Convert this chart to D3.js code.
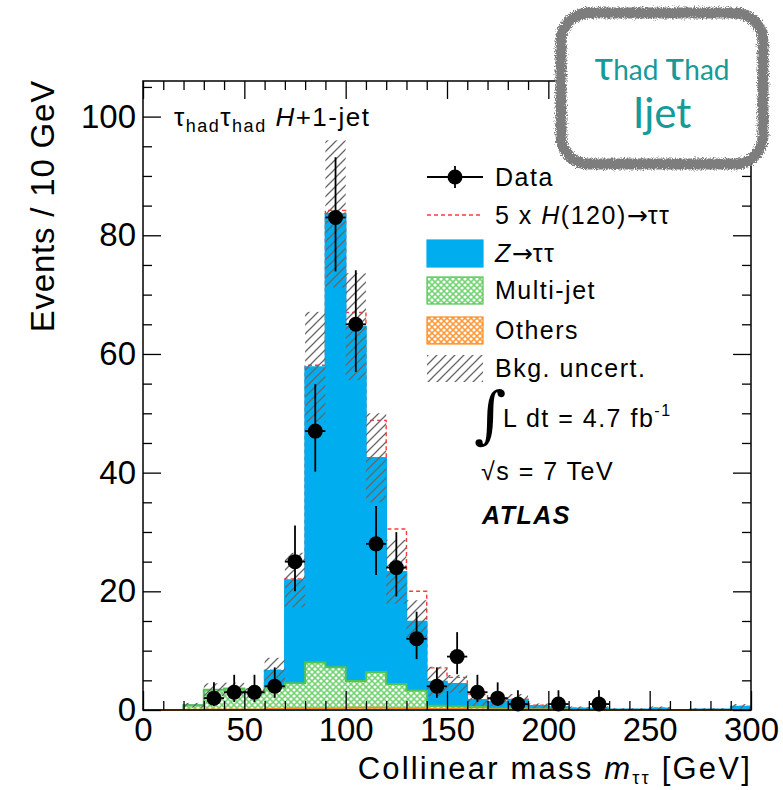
<!DOCTYPE html>
<html>
<head>
<meta charset="utf-8">
<script src="https://cdn.jsdelivr.net/npm/d3@7"></script>
<style>
  html, body { margin: 0; padding: 0; background: #fff; }
  svg { display: block; font-family: "Liberation Sans", Arial, Helvetica, sans-serif; }
</style>
</head>
<body>
<svg id="chart" width="783" height="790"></svg>
<script>
// bins of 10 GeV, lower edges
const binLow = [0, 10, 20, 30, 40, 50, 60, 70, 80, 90, 100, 110, 120, 130, 140,
  150, 160, 170, 180, 190, 200, 210, 220, 230, 240, 250, 260, 270, 280, 290]
const binWidth = 10

// background stack, per bin
const others = [0, 0, 0.05, 0.1, 0.1, 0.1, 0.2, 0.3, 0.3, 0.3, 0.4, 0.4, 0.3, 0.3, 0.2,
  0.2, 0.1, 0.1, 0.1, 0.1, 0.05, 0, 0, 0, 0, 0, 0, 0, 0, 0]
const multiJet = [0, 0, 0.75, 3.3, 3.5, 2.8, 3.6, 4.2, 7.7, 6.9, 4.5, 6.0, 4.1, 3.0, 0.5,
  0.4, 0.4, 0.1, 0.2, 0, 0.05, 0, 0, 0, 0, 0, 0, 0, 0, 0]
const zTauTau = [0, 0, 0, 0, 0, 0, 2.8, 17.4, 49.8, 76.4, 59.7, 36.1, 18.9, 11.6, 4.1,
  3.8, 1.2, 1.2, 1.4, 0.6, 0.4, 0.3, 0.3, 0.1, 0.1, 0.3, 0, 0.1, 0.1, 0.6]
const signal5x = [0, 0, 0, 0, 0, 0, 0.1, 0.2, 0.3, 0.6, 2.4, 6.3, 7.2, 5.1, 2.3,
  1.1, 1.0, 0.4, 0.1, 0.1, 0, 0, 0, 0, 0, 0, 0, 0, 0, 0]
const bkgUncert = [0, 0, 0.4, 1.1, 1.0, 0.8, 2.2, 4.6, 9.3, 12.4, 9.0, 7.5, 5.4, 3.6, 2.5,
  1.5, 1.0, 0.7, 1.0, 0.4, 0.3, 0.3, 0.3, 0.2, 0.2, 0.3, 0, 0.2, 0.2, 0.4]

// data points
const dataMass = [35, 45, 55, 65, 75, 85, 95, 105, 115, 125, 135, 145, 155, 165, 175, 185, 205, 225]
const dataEvents = [2, 3, 3, 4, 25, 47, 83, 65, 28, 24, 12, 4, 9, 3, 2, 1, 1, 1]

const xTicks = [0, 50, 100, 150, 200, 250, 300]
const yTicks = [0, 20, 40, 60, 80, 100]

const svg = d3.select('#chart')
const defs = svg.append('defs')

const x = d3.scaleLinear().domain([0, 300]).range([143, 751])
const y = d3.scaleLinear().domain([0, 106]).range([710, 81])

// patterns
const hatch = defs.append('pattern').attr('id', 'hatch')
  .attr('patternUnits', 'userSpaceOnUse').attr('width', 9).attr('height', 9)
hatch.append('path').attr('d', 'M0,9 L9,0 M-2,2 L2,-2 M7,11 L11,7')
  .attr('stroke', '#666').attr('stroke-width', 1.3)

const crossPattern = (id, bg) => {
  const p = defs.append('pattern').attr('id', id)
    .attr('patternUnits', 'userSpaceOnUse').attr('width', 6).attr('height', 6)
  p.append('rect').attr('width', 6).attr('height', 6).attr('fill', bg)
  ;[[0, 0], [6, 0], [0, 6], [6, 6], [3, 3]].forEach(([cx, cy]) => {
    p.append('circle').attr('cx', cx).attr('cy', cy).attr('r', 1.6).attr('fill', '#fff')
  })
}
crossPattern('mjPat', '#72d472')
crossPattern('othPat', '#ff9a3a')

const rough = defs.append('filter').attr('id', 'rough')
  .attr('x', '-10%').attr('y', '-10%').attr('width', '120%').attr('height', '120%')
rough.append('feTurbulence').attr('type', 'fractalNoise').attr('baseFrequency', 0.9)
  .attr('numOctaves', 2).attr('seed', 3).attr('result', 'noise')
rough.append('feDisplacementMap').attr('in', 'SourceGraphic').attr('in2', 'noise')
  .attr('scale', 7).attr('xChannelSelector', 'R').attr('yChannelSelector', 'G')

// cumulative stack tops
const othTop = others
const mjTop = others.map((v, i) => v + multiJet[i])
const bkgTop = mjTop.map((v, i) => v + zTauTau[i])
const sigTop = bkgTop.map((v, i) => v + signal5x[i])

const stepPoints = vals => {
  const pts = binLow.map((b, i) => ({ x: b, v: vals[i] }))
  pts.push({ x: binLow[binLow.length - 1] + binWidth, v: vals[vals.length - 1] })
  return pts
}
const area = d3.area().x(d => x(d.x)).y0(y(0)).y1(d => y(d.v)).curve(d3.curveStepAfter)
const line = d3.line().x(d => x(d.x)).y(d => y(d.v)).curve(d3.curveStepAfter)

const plot = svg.append('g')

// signal outline sits under the background fills
plot.append('path').datum(stepPoints(sigTop)).attr('d', line)
  .attr('fill', 'none').attr('stroke', '#ff3b3b').attr('stroke-width', 1.4)
  .attr('stroke-dasharray', '4,3')

plot.append('path').datum(stepPoints(bkgTop)).attr('d', area)
  .attr('fill', '#00aeef').attr('stroke', '#00aeef').attr('stroke-width', 1.6)
plot.append('path').datum(stepPoints(mjTop)).attr('d', area)
  .attr('fill', 'url(#mjPat)').attr('stroke', 'none')
plot.append('path').datum(stepPoints(mjTop)).attr('d', line)
  .attr('fill', 'none').attr('stroke', '#52c452').attr('stroke-width', 2)
plot.append('path').datum(stepPoints(othTop)).attr('d', area)
  .attr('fill', 'url(#othPat)').attr('stroke', 'none')
plot.append('path').datum(stepPoints(othTop)).attr('d', line)
  .attr('fill', 'none').attr('stroke', '#ff8a1c').attr('stroke-width', 2)

// background uncertainty band
plot.selectAll('rect.unc').data(binLow.map((b, i) => ({ b, top: bkgTop[i], err: bkgUncert[i] }))
  .filter(d => d.err > 0))
  .join('rect').attr('class', 'unc')
  .attr('x', d => x(d.b)).attr('width', d => x(d.b + binWidth) - x(d.b))
  .attr('y', d => y(d.top + d.err))
  .attr('height', d => y(Math.max(0, d.top - d.err)) - y(d.top + d.err))
  .attr('fill', 'url(#hatch)')

// data with Poisson-like errors
const pts = dataMass.map((m, i) => {
  const n = dataEvents[i]
  return { m, n, up: n + 1 + Math.sqrt(n + 0.75), lo: n - Math.sqrt(n - 0.25) }
})
const dataG = plot.append('g')
dataG.selectAll('line.ev').data(pts).join('line').attr('class', 'ev')
  .attr('x1', d => x(d.m)).attr('x2', d => x(d.m))
  .attr('y1', d => y(d.up)).attr('y2', d => y(Math.max(0, d.lo)))
  .attr('stroke', '#000').attr('stroke-width', 1.8)
dataG.selectAll('line.eh').data(pts).join('line').attr('class', 'eh')
  .attr('x1', d => x(d.m - binWidth / 2)).attr('x2', d => x(d.m + binWidth / 2))
  .attr('y1', d => y(d.n)).attr('y2', d => y(d.n))
  .attr('stroke', '#000').attr('stroke-width', 1.8)
dataG.selectAll('circle').data(pts).join('circle')
  .attr('cx', d => x(d.m)).attr('cy', d => y(d.n)).attr('r', 7.5).attr('fill', '#000')

// frame and axes (ROOT style, ticks inside on all sides)
const axes = svg.append('g')
const minorX = d3.range(0, 301, 10).filter(v => v % 50 !== 0)
const minorY = d3.range(0, 106, 5).filter(v => v % 20 !== 0)

axes.append('g').attr('transform', `translate(0,${y(0)})`)
  .call(d3.axisBottom(x).tickValues(xTicks).tickSize(-19).tickPadding(8).tickFormat(d3.format('d')))
axes.append('g').attr('transform', `translate(0,${y(0)})`)
  .call(d3.axisBottom(x).tickValues(minorX).tickSize(-9).tickFormat(''))
axes.append('g').attr('transform', `translate(0,${y(106)})`)
  .call(d3.axisTop(x).tickValues(xTicks).tickSize(-18).tickFormat(''))
axes.append('g').attr('transform', `translate(0,${y(106)})`)
  .call(d3.axisTop(x).tickValues(minorX).tickSize(-9).tickFormat(''))

axes.append('g').attr('transform', `translate(${x(0)},0)`)
  .call(d3.axisLeft(y).tickValues(yTicks).tickSize(-18).tickPadding(7).tickFormat(d3.format('d')))
axes.append('g').attr('transform', `translate(${x(0)},0)`)
  .call(d3.axisLeft(y).tickValues(minorY).tickSize(-9).tickFormat(''))
axes.append('g').attr('transform', `translate(${x(300)},0)`)
  .call(d3.axisRight(y).tickValues(yTicks).tickSize(-18).tickFormat(''))
axes.append('g').attr('transform', `translate(${x(300)},0)`)
  .call(d3.axisRight(y).tickValues(minorY).tickSize(-9).tickFormat(''))

axes.selectAll('.domain').remove()
axes.selectAll('.tick line').attr('stroke', '#000').attr('stroke-width', 1.3)
axes.selectAll('.tick text').attr('font-size', 33).attr('fill', '#000')
  .attr('font-family', '"Liberation Sans", Arial, sans-serif')
axes.append('rect').attr('x', x(0)).attr('y', y(106))
  .attr('width', x(300) - x(0)).attr('height', y(0) - y(106))
  .attr('fill', 'none').attr('stroke', '#000').attr('stroke-width', 1.5)

// axis titles
svg.append('text').attr('transform', 'translate(54,80) rotate(-90)')
  .attr('text-anchor', 'end').attr('font-size', 33).attr('letter-spacing', 0.8)
  .text('Events / 10 GeV')

const xt = svg.append('text').attr('x', 752).attr('y', 779).attr('text-anchor', 'end')
  .attr('font-size', 31).attr('letter-spacing', 2.2)
xt.append('tspan').text('Collinear mass ')
xt.append('tspan').attr('font-style', 'italic').text('m')
xt.append('tspan').attr('font-size', 18).attr('dy', 5).text('ττ')
xt.append('tspan').attr('dy', -5).text(' [GeV]')

// channel label
const ch = svg.append('text').attr('x', 174).attr('y', 126).attr('font-size', 26)
  .attr('letter-spacing', 1.5)
ch.append('tspan').text('τ')
ch.append('tspan').attr('font-size', 18).attr('dy', 6).text('had')
ch.append('tspan').attr('dy', -6).text('τ')
ch.append('tspan').attr('font-size', 18).attr('dy', 6).text('had')
ch.append('tspan').attr('dy', -6).text(' ')
ch.append('tspan').attr('font-style', 'italic').text('H')
ch.append('tspan').text('+1-jet')

// legend
const leg = svg.append('g').attr('font-size', 25).attr('letter-spacing', 1.5)
const lx0 = 427, lx1 = 483, ltx = 495
const rowY = [177, 215, 253, 290, 330, 368]

leg.append('line').attr('x1', lx0).attr('x2', lx1).attr('y1', rowY[0]).attr('y2', rowY[0])
  .attr('stroke', '#000').attr('stroke-width', 1.8)
leg.append('line').attr('x1', 455).attr('x2', 455).attr('y1', rowY[0] - 11).attr('y2', rowY[0] + 11)
  .attr('stroke', '#000').attr('stroke-width', 1.8)
leg.append('circle').attr('cx', 455).attr('cy', rowY[0]).attr('r', 7.5).attr('fill', '#000')
leg.append('line').attr('x1', lx0).attr('x2', lx1).attr('y1', rowY[1]).attr('y2', rowY[1])
  .attr('stroke', '#ff3b3b').attr('stroke-width', 1.4).attr('stroke-dasharray', '4,3')

const boxes = [
  { row: 2, fill: '#00aeef', stroke: '#00aeef' },
  { row: 3, fill: 'url(#mjPat)', stroke: '#52c452' },
  { row: 4, fill: 'url(#othPat)', stroke: '#ff8a1c' },
  { row: 5, fill: 'url(#hatch)', stroke: 'none' }
]
boxes.forEach(b => {
  leg.append('rect').attr('x', lx0).attr('y', rowY[b.row] - 13).attr('width', lx1 - lx0).attr('height', 27)
    .attr('fill', b.fill).attr('stroke', b.stroke).attr('stroke-width', 1.2)
})

const arrowFont = '"DejaVu Sans", sans-serif'
const lt = (row) => leg.append('text').attr('x', ltx).attr('y', rowY[row] + 9)
lt(0).text('Data')
const sg = lt(1)
sg.append('tspan').text('5 x ')
sg.append('tspan').attr('font-style', 'italic').text('H')
sg.append('tspan').text('(120)')
sg.append('tspan').attr('font-family', arrowFont).attr('letter-spacing', 0).text('→')
sg.append('tspan').text('ττ')
const zt = lt(2)
zt.append('tspan').attr('font-style', 'italic').text('Z')
zt.append('tspan').attr('font-family', arrowFont).attr('letter-spacing', 0).text('→')
zt.append('tspan').text('ττ')
lt(3).text('Multi-jet')
lt(4).text('Others')
lt(5).text('Bkg. uncert.')

// luminosity, energy, experiment
svg.append('text').attr('x', 474).attr('y', 436).attr('font-size', 62)
  .attr('font-family', '"DejaVu Serif", serif').attr('font-weight', 300).text('∫')
const lumi = svg.append('text').attr('x', 503).attr('y', 427).attr('font-size', 25)
  .attr('letter-spacing', 1.5)
lumi.append('tspan').text('L dt = 4.7 fb')
lumi.append('tspan').attr('font-size', 16).attr('dy', -11).text('-1')
svg.append('text').attr('x', 481).attr('y', 480).attr('font-size', 25).attr('letter-spacing', 1.5)
  .text('√s = 7 TeV')
svg.append('text').attr('x', 482).attr('y', 524).attr('font-size', 25).attr('letter-spacing', 1.5)
  .attr('font-weight', 'bold').attr('font-style', 'italic').text('ATLAS')

// hand-drawn badge in the corner
const badge = svg.append('g')
badge.append('rect').attr('x', 561).attr('y', 13).attr('width', 202).attr('height', 151)
  .attr('rx', 28).attr('fill', '#fff')
badge.append('rect').attr('x', 561).attr('y', 13).attr('width', 202).attr('height', 151)
  .attr('rx', 28).attr('fill', 'none').attr('stroke', '#7d7d7d').attr('stroke-width', 11)
  .attr('filter', 'url(#rough)')
const bt = badge.append('text').attr('x', 662).attr('y', 80).attr('text-anchor', 'middle')
  .attr('fill', '#169a9a').attr('font-family', 'Lato, "Open Sans", sans-serif').attr('font-size', 40)
bt.append('tspan').text('τ')
bt.append('tspan').attr('font-size', 28).text('had ')
bt.append('tspan').text('τ')
bt.append('tspan').attr('font-size', 28).text('had')
badge.append('text').attr('x', 662).attr('y', 128).attr('text-anchor', 'middle')
  .attr('fill', '#169a9a').attr('font-family', 'Lato, "Open Sans", sans-serif').attr('font-size', 42)
  .text('Ijet')
</script>
</body>
</html>
